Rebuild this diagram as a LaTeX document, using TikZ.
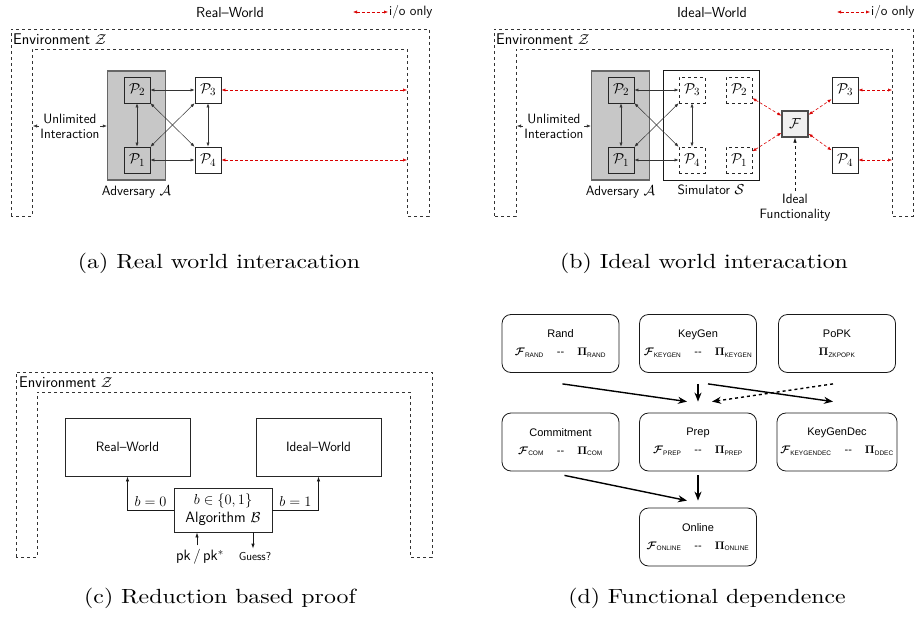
\documentclass[tikz,border=0pt]{standalone}
\usepackage{amsmath,amssymb}
\usepackage[no-math]{fontspec}
\newfontfamily\arialfont{Liberation Sans}
\usetikzlibrary{positioning,arrows.meta}
\tikzset{%
  party/.style={draw=black!85,line width=0.9pt,minimum size=26pt,inner sep=0pt,font=\fontsize{15}{15}\selectfont},
  ghost/.style={party,dashed},
  advbox/.style={draw=black!60,line width=1.3pt,fill=black!22,minimum width=58pt,minimum height=109pt},
  simbox/.style={draw=black!90,line width=1pt,minimum width=96pt,minimum height=109pt},
  funcbox/.style={party,draw=black!70,line width=1.3pt,fill=black!6},
  envline/.style={draw=black!80,dashed,line width=0.8pt},
  envtext/.style={font=\sffamily\fontsize{15.5}{16}\selectfont,inner sep=1pt,anchor=west},
  lbl/.style={font=\sffamily\fontsize{13.5}{15}\selectfont,align=center},
  ttl/.style={font=\sffamily\fontsize{14.5}{15}\selectfont},
  msg/.style={draw=black!80,line width=0.5pt,{Latex[length=4pt,width=3.2pt]}-{Latex[length=4pt,width=3.2pt]}},
  io/.style={draw=red!85!black,dashed,dash pattern=on 3pt off 2pt,line width=0.6pt,{Latex[length=4pt,width=3.2pt]}-{Latex[length=4pt,width=3.2pt]}},
  world/.style={draw=black!85,line width=0.9pt,minimum width=125pt,minimum height=58pt,font=\sffamily\fontsize{13.5}{15}\selectfont},
  flow/.style={draw=black!90,line width=0.8pt,-{Latex[length=5pt,width=3.5pt]}},
  block/.style={draw=black!90,rounded corners=9pt,minimum width=117pt,minimum height=58pt,line width=0.8pt,align=center,font=\arialfont\fontsize{11}{13}\selectfont},
  dep/.style={draw=black,line width=1.4pt,-{Stealth[length=9pt,width=7pt]}},
  capt/.style={font=\fontsize{10}{12}\selectfont,xscale=2.38,yscale=2.05}
}
\newcommand{\sml}[1]{\text{\arialfont\fontsize{6.5}{7}\selectfont #1}}
\newcommand{\fpair}[2]{$\boldsymbol{\mathcal{F}}_{\sml{#1}}$\hspace{13pt}-{}-\hspace{13pt}$\mathbf{\Pi}_{\sml{#2}}$}

\begin{document}
\begin{tikzpicture}[x=1pt,y=-1pt]
  \useasboundingbox (0,0) rectangle (915,623);

  % (a) real world
  \node[ttl] (ttlA) at (230,13) {Real--World};
  \coordinate (lgA) at (353,12);
  \node[lbl,anchor=west,inner sep=1pt] (ioA) at (388,12) {i/o only};
  \draw[io] (lgA) -- (ioA.west);
  \draw[envline] (11,216) -- (11,29) -- (429,29) -- (429,216) -- (407,216)
    -- (407,49) -- (32,49) -- (32,216) -- cycle;
  \node[envtext] (envA) at (12,39) {Environment $\mathcal{Z}$};
  \node[advbox] (advA) at (136.5,125.5) {};
  \node[lbl,below=1pt of advA] {Adversary $\mathcal{A}$};
  \node[party] (a2) at (137,90) {$\mathcal{P}_2$};
  \node[party] (a1) at (137,160) {$\mathcal{P}_1$};
  \node[party,fill=white] (a3) at (208,90) {$\mathcal{P}_3$};
  \node[party,fill=white] (a4) at (208,160) {$\mathcal{P}_4$};
  \draw[msg] (a2) -- (a3);
  \draw[msg] (a1) -- (a4);
  \draw[msg] (a2) -- (a1);
  \draw[msg] (a3) -- (a4);
  \draw[msg] (a2) -- (a4);
  \draw[msg] (a1) -- (a3);
  \coordinate (uA) at (33,126);
  \draw[msg] (uA) -- (uA -| advA.west)
    node[midway,lbl,fill=white,inner sep=1pt] {Unlimited\\Interaction};
  \coordinate (oA3) at (407,90);
  \coordinate (oA4) at (407,160);
  \draw[io] (a3) -- (oA3);
  \draw[io] (a4) -- (oA4);
  \node[capt] (capA) at (219,263) {(a) Real world interacation};

  % (b) ideal world
  \node[ttl] (ttlB) at (712,13) {Ideal--World};
  \coordinate (lgB) at (837,12);
  \node[lbl,anchor=west,inner sep=1pt] (ioB) at (870,12) {i/o only};
  \draw[io] (lgB) -- (ioB.west);
  \draw[envline] (494,216) -- (494,29) -- (913,29) -- (913,216) -- (892,216)
    -- (892,49) -- (516,49) -- (516,216) -- cycle;
  \node[envtext] (envB) at (495,39) {Environment $\mathcal{Z}$};
  \node[advbox] (advB) at (620.5,125.5) {};
  \node[lbl,below=1pt of advB] {Adversary $\mathcal{A}$};
  \node[simbox] (sim) at (711,125.5) {};
  \node[lbl,below=1pt of sim] {Simulator $\mathcal{S}$};
  \node[party] (b2) at (621,90) {$\mathcal{P}_2$};
  \node[party] (b1) at (621,160) {$\mathcal{P}_1$};
  \node[ghost] (s3) at (692,90) {$\mathcal{P}_3$};
  \node[ghost] (s4) at (692,160) {$\mathcal{P}_4$};
  \node[ghost] (s2) at (739,90) {$\mathcal{P}_2$};
  \node[ghost] (s1) at (739,160) {$\mathcal{P}_1$};
  \node[funcbox] (func) at (795,124) {$\mathcal{F}$};
  \node[party] (b3) at (845,90) {$\mathcal{P}_3$};
  \node[party] (b4) at (845,160) {$\mathcal{P}_4$};
  \draw[msg] (b2) -- (s3);
  \draw[msg] (b1) -- (s4);
  \draw[msg] (b2) -- (b1);
  \draw[msg] (s3) -- (s4);
  \draw[msg] (b2) -- (s4);
  \draw[msg] (b1) -- (s3);
  \draw[io] (s2) -- (func);
  \draw[io] (s1) -- (func);
  \draw[io] (func) -- (b3);
  \draw[io] (func) -- (b4);
  \coordinate (oB3) at (892,90);
  \coordinate (oB4) at (892,160);
  \draw[io] (b3) -- (oB3);
  \draw[io] (b4) -- (oB4);
  \coordinate (uB) at (517,126);
  \draw[msg] (uB) -- (uB -| advB.west)
    node[midway,lbl,fill=white,inner sep=1pt] {Unlimited\\Interaction};
  \node[lbl] (idf) at (795,208) {Ideal\\Functionality};
  \draw[flow,dashed,line width=0.6pt] (idf) -- (func);
  \node[capt] (capB) at (704,263) {(b) Ideal world interacation};

  % (c) reduction
  \draw[envline] (16,557) -- (16,372) -- (432,372) -- (432,557) -- (410,557)
    -- (410,392) -- (37,392) -- (37,557) -- cycle;
  \node[envtext] (envC) at (18,382) {Environment $\mathcal{Z}$};
  \node[world] (real) at (127.5,447) {Real--World};
  \node[world] (ideal) at (318.5,447) {Ideal--World};
  \node[draw=black!85,line width=0.9pt,minimum width=98pt,minimum height=44pt,
    align=center,inner sep=1pt,font=\sffamily\fontsize{15}{18}\selectfont] (alg) at (223,510)
    {$b\in\{0,1\}$\\Algorithm $\mathcal{B}$};
  \draw[flow] (alg.west) -| (real) node[pos=0.25,above,font=\fontsize{15}{15}\selectfont] {$b=0$};
  \draw[flow] (alg.east) -| (ideal) node[pos=0.25,above,font=\fontsize{15}{15}\selectfont] {$b=1$};
  \node[font=\sffamily\fontsize{15}{15}\selectfont,inner sep=1pt] (pk) at (200,557) {pk\,/\,pk$^*$};
  \node[font=\sffamily\fontsize{11.5}{12}\selectfont,inner sep=1pt] (guess) at (255,557) {Guess?};
  \draw[flow] ([xshift=-3pt,yshift=3pt]pk.north) -- ([xshift=-3pt]pk.north |- alg.south);
  \draw[flow] ([xshift=-2pt]guess.north |- alg.south) -- ([xshift=-2pt,yshift=3pt]guess.north);
  \node[capt] (capC) at (220,598) {(c) Reduction based proof};

  % (d) dependencies
  \node[block] (rand) at (560.5,343.5) {Rand\\[5pt]\fpair{RAND}{RAND}};
  \node[block] (keygen) at (698,343.5) {KeyGen\\[5pt]\fpair{KEYGEN}{KEYGEN}};
  \node[block] (popk) at (837,343.5) {PoPK\\[5pt]$\mathbf{\Pi}_{\sml{ZKPOPK}}$};
  \node[block] (com) at (560.5,442) {Commitment\\[5pt]\fpair{COM}{COM}};
  \node[block] (prep) at (698,442) {Prep\\[5pt]\fpair{PREP}{PREP}};
  \node[block] (kgd) at (837,442) {KeyGenDec\\[5pt]\fpair{KEYGENDEC}{DDEC}};
  \node[block] (online) at (698,537) {Online\\[5pt]\fpair{ONLINE}{ONLINE}};
  \draw[dep] ([xshift=2pt,yshift=-11pt]rand.south) -- ([xshift=-11pt,yshift=11pt]prep.north);
  \draw[dep] ([yshift=-11pt]keygen.south) -- ([yshift=11pt]prep.north);
  \draw[dep] ([xshift=10pt,yshift=-11pt]keygen.south) -- ([xshift=-4pt,yshift=11pt]kgd.north);
  \draw[dep,dashed] ([xshift=-4pt,yshift=-11pt]popk.south) -- ([xshift=14pt,yshift=11pt]prep.north);
  \draw[dep] ([xshift=4pt,yshift=-4pt]com.south) -- ([xshift=-11pt,yshift=7pt]online.north);
  \draw[dep] ([yshift=-4pt]prep.south) -- ([yshift=7pt]online.north);
  \node[capt] (capD) at (707,598) {(d) Functional dependence};
\end{tikzpicture}
\end{document}
